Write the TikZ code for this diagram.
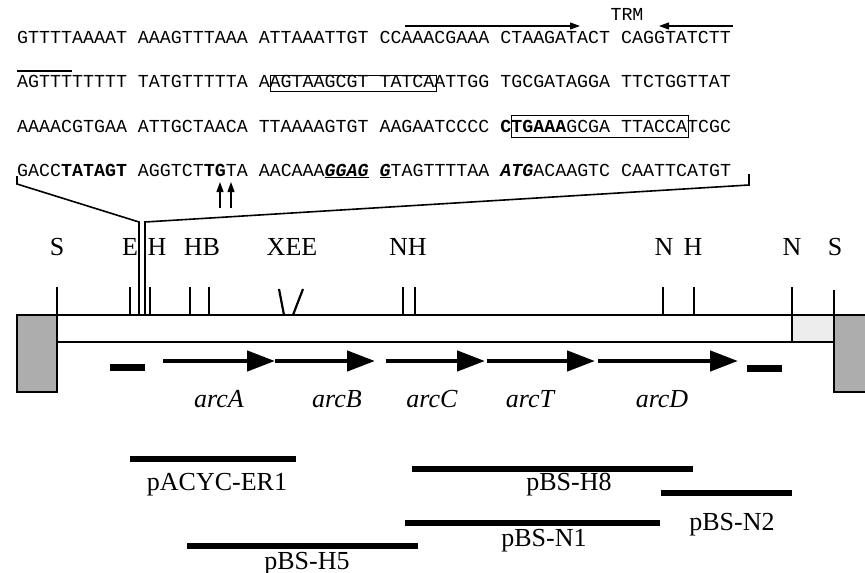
\documentclass[tikz,border=0pt]{standalone}
\usepackage{fontspec}
\setmainfont{Liberation Serif}
\newfontfamily\seqfont{Liberation Mono}
\usetikzlibrary{arrows.meta}
\begin{document}
\begin{tikzpicture}[x=1pt,y=-1pt,
  seq/.style={font=\seqfont\fontsize{18.3}{20}\selectfont, inner sep=0pt, anchor=base west},
  lbl/.style={font=\fontsize{26}{28}\selectfont, inner sep=0pt, anchor=base},
  gene/.style={font=\itshape\fontsize{26}{28}\selectfont, inner sep=0pt, anchor=base},
  thinarrow/.style={line width=1.2pt, -{Triangle[length=10pt,width=7pt]}},
  seqbox/.style={line width=1pt},
  zoomline/.style={line width=1.6pt},
  tick/.style={line width=2.2pt},
  barline/.style={line width=2.2pt},
  genearrow/.style={line width=4.5pt, -{Triangle[length=28pt,width=20pt]}},
  dashbar/.style={line width=7pt},
  clone/.style={line width=5.5pt},
  darkbox/.style={draw, line width=2.2pt, fill=black!32},
  lightbox/.style={fill=black!7}
]
\useasboundingbox (0,0) rectangle (865,573);

% ---------- sequence ----------
\node[seq] (l1) at (17,43) {GTTTTAAAAT AAAGTTTAAA ATTAAATTGT CCAAACGAAA CTAAGATACT CAGGTATCTT};
\node[seq] (l2) at (17,87) {AGTTTTTTTT TATGTTTTTA AAGTAAGCGT TATCAATTGG TGCGATAGGA TTCTGGTTAT};
\node[seq] (l3) at (17,132) {AAAACGTGAA ATTGCTAACA TTAAAAGTGT AAGAATCCCC \textbf{CTGAAA}GCGA TTACCATCGC};
\node[seq] (l4) at (17,176) {GACC\textbf{TATAGT} AGGTCT\textbf{TG}TA AACAAA\underline{\textbf{\textit{GGAG}}} \underline{\textbf{\textit{G}}}TAGTTTTAA \textbf{\textit{ATG}}ACAAGTC CAATTCATGT};
\node[seq, anchor=base] (trm) at (627,20) {TRM};

% terminator arrows
\coordinate (ra) at (405,26); \coordinate (rb) at (580,26);
\coordinate (la) at (733,26); \coordinate (lb) at (659,26);
\draw[thinarrow] (ra) -- (rb);
\draw[thinarrow] (la) -- (lb);

% overline and boxes
\coordinate (ov1) at (17,71); \coordinate (ov2) at (72,71);
\draw[line width=1.2pt] (ov1) -- (ov2);
\draw[seqbox] (270,75) rectangle (436,91);
\draw[seqbox] (511,115) rectangle (688,137);

% transcription start arrows
\coordinate (t1a) at (220,208); \coordinate (t1b) at (220,182);
\coordinate (t2a) at (231,208); \coordinate (t2b) at (231,182);
\draw[thinarrow] (t1a) -- (t1b);
\draw[thinarrow] (t2a) -- (t2b);

% zoom bracket
\coordinate (zl0) at (17,176); \coordinate (zl1) at (17,184);
\coordinate (zl2) at (139,222); \coordinate (zl3) at (139,315);
\coordinate (zr0) at (749,174); \coordinate (zr1) at (749,185);
\coordinate (zr2) at (145,222); \coordinate (zr3) at (145,315);
\draw[zoomline] (zl0) -- (zl1) -- (zl2) -- (zl3);
\draw[zoomline] (zr0) -- (zr1) -- (zr2) -- (zr3);

% ---------- restriction map ----------
\node[lbl] (mS1) at (57,255) {S};
\node[lbl] (mE1) at (130,255) {E};
\node[lbl] (mH1) at (157,255) {H};
\node[lbl] (mHB) at (202,255) {HB};
\node[lbl] (mXEE) at (292,255) {XEE};
\node[lbl] (mNH) at (408,255) {NH};
\node[lbl] (mN1) at (664,255) {N};
\node[lbl] (mH2) at (693,255) {H};
\node[lbl] (mN2) at (792,255) {N};
\node[lbl] (mS2) at (835,255) {S};

% boxes
\draw[lightbox] (792,315) rectangle (834,342);
\draw[darkbox] (17,315) rectangle (57,392);
\draw[darkbox] (834,315) rectangle (870,392);
% bar
\draw[barline] (17,315) -- (866,315);
\draw[barline] (57,342) -- (834,342);

% ticks
\foreach \x in {57,130,150,190,209,403,415,663,694}{
  \draw[tick] (\x,287) -- (\x,315);
}
\draw[tick] (792,287) -- (792,342);
\draw[tick] (834,290) -- (834,315);
\draw[tick] (279,289) -- (284,315);
\draw[tick] (303,289) -- (293,315);

% genes
\coordinate (gA0) at (163,361); \coordinate (gA1) at (275,361);
\coordinate (gB1) at (375,361);
\coordinate (gC0) at (386,361); \coordinate (gC1) at (485,361);
\coordinate (gT0) at (487,361); \coordinate (gT1) at (595,361);
\coordinate (gD0) at (598,361); \coordinate (gD1) at (738,361);
\draw[genearrow] (gA0) -- (gA1);
\draw[genearrow] (gA1) -- (gB1);
\draw[genearrow] (gC0) -- (gC1);
\draw[genearrow] (gT0) -- (gT1);
\draw[genearrow] (gD0) -- (gD1);
\draw[dashbar] (110,367) -- (145,367);
\draw[dashbar] (747,368) -- (782,368);

\node[gene] (arcA) at (219,407) {arcA};
\node[gene] (arcB) at (337,407) {arcB};
\node[gene] (arcC) at (432,407) {arcC};
\node[gene] (arcT) at (530,407) {arcT};
\node[gene] (arcD) at (662,407) {arcD};

% ---------- clones ----------
\draw[clone] (130,459) -- (296,459);
\node[lbl] (cER1) at (217,490) {pACYC-ER1};
\draw[clone] (412,469) -- (693,469);
\node[lbl] (cH8) at (569,490) {pBS-H8};
\draw[clone] (661,493) -- (792,493);
\node[lbl] (cN2) at (732,530) {pBS-N2};
\draw[clone] (405,523) -- (660,523);
\node[lbl] (cN1) at (544,546) {pBS-N1};
\draw[clone] (187,546) -- (418,546);
\node[lbl] (cH5) at (307,569) {pBS-H5};
\end{tikzpicture}
\end{document}
